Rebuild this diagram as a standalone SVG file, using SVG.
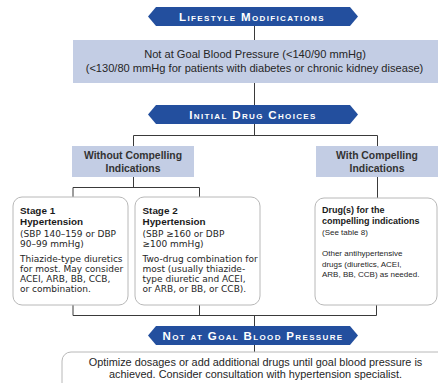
<svg xmlns="http://www.w3.org/2000/svg" width="438" height="383" viewBox="0 0 438 383">
<style>
.hex{fill:#234f9e}
.hext{fill:#fff;font-family:"Liberation Sans",Arial,sans-serif;font-weight:bold;font-size:11.5px;font-variant:small-caps;letter-spacing:1.35px;text-anchor:middle}
.band{fill:#c3cde4}
.t{fill:#262626;font-family:"Liberation Sans",Arial,sans-serif;font-size:11.1px}
.c{text-anchor:middle}
.bt{font-size:10.9px}
.hd{fill:#333;font-family:"Liberation Sans",Arial,sans-serif;font-size:10.4px;font-weight:bold;text-anchor:middle}
.rb{fill:#fff;stroke:#b8b8b8;stroke-width:1}
.bx{fill:#262626;font-family:"DejaVu Sans",Verdana,sans-serif;font-size:9px}
.bxr{fill:#262626;font-family:"Liberation Sans",Arial,sans-serif;font-size:8px}
.bxb{font-family:"Liberation Sans",Arial,sans-serif;font-weight:bold;font-size:9.9px;fill:#1a1a1a}
.bxb2{font-weight:bold;font-size:9px;fill:#1a1a1a}
.ln{fill:none;stroke:#3a3a3a;stroke-width:1}
</style>
<g id="connectors">
<path class="ln" d="M254.5 26V40M254.5 83V105M254.5 124V135.5M133.5 135.5H377.5M133.5 135.5V146M377.5 135.5V146M133.5 177V187.5M73 187.5H199.5M73 187.5V197M199.5 187.5V197M377.5 177V198M73 305V315.5H376.5V305M199.5 305V315.5M254.5 315.5V326M254.5 345V352"/>
</g>
<g id="lifestyle">
<polygon class="hex" points="148,16.5 156,7 350,7 358,16.5 350,26 156,26"/>
<text class="hext" x="252" y="20.5">Lifestyle Modifications</text>
</g>
<g id="not-at-goal-1">
<rect class="band" x="73" y="40" width="365" height="43"/>
<text class="t c" x="255" y="58">Not at Goal Blood Pressure (&lt;140/90 mmHg)</text>
<text class="t c" x="254.5" y="71.5">(&lt;130/80 mmHg for patients with diabetes or chronic kidney disease)</text>
</g>
<g id="initial">
<polygon class="hex" points="148,114.5 156,105 350,105 358,114.5 350,124 156,124"/>
<text class="hext" x="253" y="118.5">Initial Drug Choices</text>
</g>
<g id="without">
<rect class="band" x="72" y="146" width="122" height="31"/>
<text class="hd" x="133" y="158.5">Without Compelling</text>
<text class="hd" x="133" y="171.5">Indications</text>
</g>
<g id="with">
<rect class="band" x="316" y="146" width="122" height="31"/>
<text class="hd" x="377" y="158.5">With Compelling</text>
<text class="hd" x="377" y="171.5">Indications</text>
</g>
<g id="stage1">
<rect class="rb" x="13" y="197" width="115" height="108" rx="9"/>
<text class="bx" x="20"><tspan class="bxb" y="213.5">Stage 1</tspan><tspan class="bxb" x="20" y="225">Hypertension</tspan><tspan x="20" y="236.5">(SBP 140–159 or DBP</tspan><tspan x="20" y="246.5">90–99 mmHg)</tspan><tspan x="20" y="262">Thiazide-type diuretics</tspan><tspan x="20" y="272">for most. May consider</tspan><tspan x="20" y="282">ACEI, ARB, BB, CCB,</tspan><tspan x="20" y="292">or combination.</tspan></text>
</g>
<g id="stage2">
<rect class="rb" x="135" y="197" width="125" height="108" rx="9"/>
<text class="bx" x="142.5"><tspan class="bxb" y="213.5">Stage 2</tspan><tspan class="bxb" x="142.5" y="225">Hypertension</tspan><tspan x="142.5" y="236.5">(SBP ≥160 or DBP</tspan><tspan x="142.5" y="246.5">≥100 mmHg)</tspan><tspan x="142.5" y="262">Two-drug combination for</tspan><tspan x="142.5" y="272">most (usually thiazide-</tspan><tspan x="142.5" y="282">type diuretic and ACEI,</tspan><tspan x="142.5" y="292">or ARB, or BB, or CCB).</tspan></text>
</g>
<g id="compelling">
<rect class="rb" x="315" y="198" width="122" height="107" rx="9"/>
<text class="bxr" x="322"><tspan class="bxb2" y="213">Drug(s) for the</tspan><tspan class="bxb2" x="322" y="224">compelling indications</tspan><tspan x="322" y="234.5">(See table 8)</tspan><tspan x="322" y="256">Other antihypertensive</tspan><tspan x="322" y="266.5">drugs (diuretics, ACEI,</tspan><tspan x="322" y="277">ARB, BB, CCB) as needed.</tspan></text>
</g>
<g id="not-at-goal-2">
<polygon class="hex" points="148,335.5 156,326 350,326 358,335.5 350,345 156,345"/>
<text class="hext" x="253" y="339.5">Not at Goal Blood Pressure</text>
</g>
<g id="optimize">
<rect class="rb" x="62" y="352" width="390" height="45" rx="9"/>
<text class="t c bt" x="255.5" y="366">Optimize dosages or add additional drugs until goal blood pressure is</text>
<text class="t c bt" x="255.5" y="378">achieved. Consider consultation with hypertension specialist.</text>
</g>
</svg>
